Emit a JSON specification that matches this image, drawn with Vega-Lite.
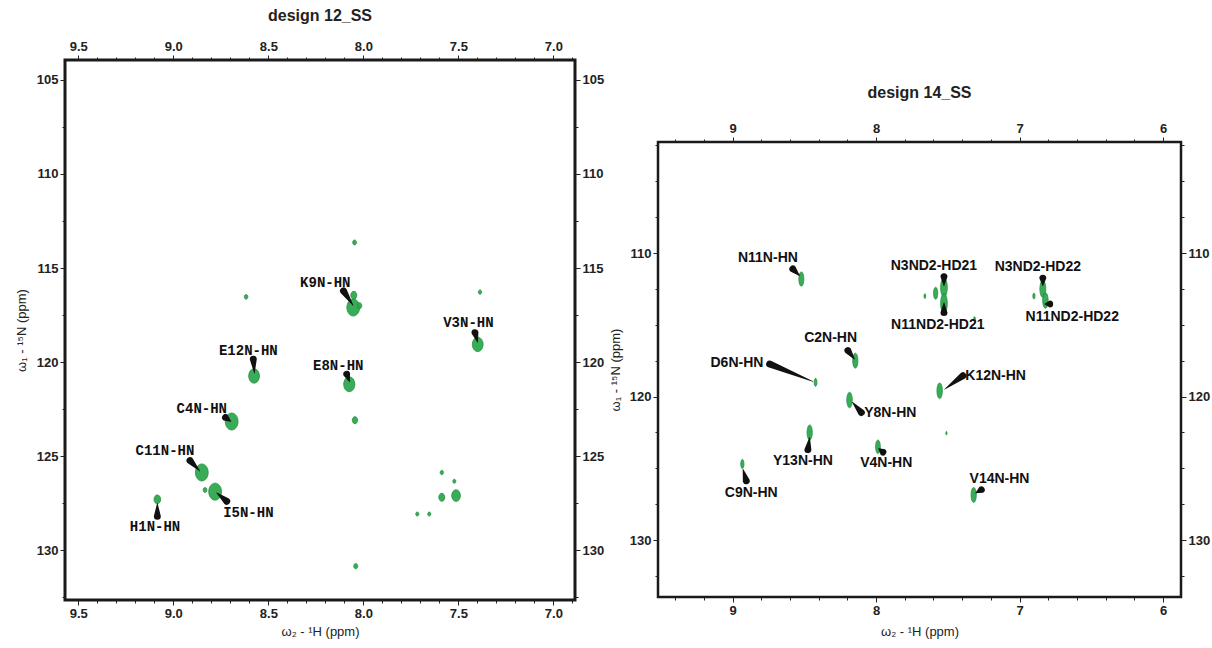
{
  "$schema": "https://vega.github.io/schema/vega-lite/v6.json",
  "background": "white",
  "padding": {"left": 13, "top": 6, "right": 5, "bottom": 0},
  "spacing": 2,
  "config": {
    "font": "Liberation Sans",
    "axis": {
      "labelFont": "Liberation Sans",
      "labelFontWeight": "bold",
      "labelFontSize": 13,
      "labelColor": "#222",
      "tickColor": "#222",
      "tickWidth": 1,
      "domain": false,
      "grid": false,
      "labelOverlap": false,
      "labelFlush": false,
      "labelPadding": 2,
      "titleFont": "Liberation Sans",
      "titleFontWeight": "normal",
      "titleFontSize": 13,
      "titleColor": "#222"
    },
    "title": {"font": "Liberation Sans", "fontWeight": "bold", "fontSize": 16, "color": "#222"}
  },
  "datasets": {
    "peaks12": [
      {"h": 8.053, "n": 117.1, "intensity": 1.0},
      {"h": 8.05, "n": 116.45, "intensity": 0.2},
      {"h": 8.02, "n": 117.0, "intensity": 0.1},
      {"h": 7.398, "n": 119.06, "intensity": 0.7},
      {"h": 8.575, "n": 120.74, "intensity": 0.7},
      {"h": 8.074, "n": 121.18, "intensity": 0.75},
      {"h": 8.693, "n": 123.16, "intensity": 1.0},
      {"h": 8.85, "n": 125.87, "intensity": 1.0},
      {"h": 8.78, "n": 126.89, "intensity": 1.0},
      {"h": 9.084, "n": 127.3, "intensity": 0.25},
      {"h": 8.617, "n": 116.53, "intensity": 0.05},
      {"h": 7.386, "n": 116.28, "intensity": 0.04},
      {"h": 8.044, "n": 123.09, "intensity": 0.15},
      {"h": 7.587, "n": 125.87, "intensity": 0.04},
      {"h": 7.521, "n": 126.34, "intensity": 0.03},
      {"h": 7.587, "n": 127.19, "intensity": 0.2},
      {"h": 7.512, "n": 127.1, "intensity": 0.45},
      {"h": 7.716, "n": 128.08, "intensity": 0.03},
      {"h": 7.653, "n": 128.08, "intensity": 0.03},
      {"h": 8.833, "n": 126.8, "intensity": 0.06},
      {"h": 8.046, "n": 113.64, "intensity": 0.06},
      {"h": 8.04, "n": 130.85, "intensity": 0.07}
    ],
    "labels12": [
      {"label": "K9N-HN", "h": 8.2, "n": 115.8},
      {"label": "V3N-HN", "h": 7.447, "n": 117.94},
      {"label": "E12N-HN", "h": 8.605, "n": 119.41},
      {"label": "E8N-HN", "h": 8.132, "n": 120.2},
      {"label": "C4N-HN", "h": 8.85, "n": 122.5},
      {"label": "C11N-HN", "h": 9.044, "n": 124.75},
      {"label": "I5N-HN", "h": 8.605, "n": 128.02},
      {"label": "H1N-HN", "h": 9.096, "n": 128.75}
    ],
    "pointers12": [
      {"label": "K9N-HN", "h": 8.104, "n": 116.22, "t": 0},
      {"label": "K9N-HN", "h": 8.053, "n": 117.0, "t": 1},
      {"label": "V3N-HN", "h": 7.412, "n": 118.44, "t": 0},
      {"label": "V3N-HN", "h": 7.398, "n": 118.95, "t": 1},
      {"label": "E12N-HN", "h": 8.579, "n": 119.85, "t": 0},
      {"label": "E12N-HN", "h": 8.573, "n": 120.6, "t": 1},
      {"label": "E8N-HN", "h": 8.087, "n": 120.65, "t": 0},
      {"label": "E8N-HN", "h": 8.072, "n": 121.05, "t": 1},
      {"label": "C4N-HN", "h": 8.725, "n": 122.95, "t": 0},
      {"label": "C4N-HN", "h": 8.696, "n": 123.16, "t": 1},
      {"label": "C11N-HN", "h": 8.912, "n": 125.24, "t": 0},
      {"label": "C11N-HN", "h": 8.86, "n": 125.8, "t": 1},
      {"label": "I5N-HN", "h": 8.719, "n": 127.4, "t": 0},
      {"label": "I5N-HN", "h": 8.772, "n": 126.95, "t": 1},
      {"label": "H1N-HN", "h": 9.084, "n": 128.2, "t": 0},
      {"label": "H1N-HN", "h": 9.084, "n": 127.5, "t": 1}
    ],
    "peaks14": [
      {"h": 8.521, "n": 111.81, "intensity": 0.5},
      {"h": 7.527, "n": 112.4, "intensity": 0.9},
      {"h": 7.527, "n": 113.5, "intensity": 0.9},
      {"h": 7.585, "n": 112.8, "intensity": 0.35},
      {"h": 7.66, "n": 113.0, "intensity": 0.05},
      {"h": 6.838, "n": 112.5, "intensity": 0.7},
      {"h": 6.82, "n": 113.3, "intensity": 0.6},
      {"h": 6.9, "n": 113.0, "intensity": 0.08},
      {"h": 8.145, "n": 117.5, "intensity": 0.55},
      {"h": 8.422, "n": 119.01, "intensity": 0.15},
      {"h": 7.557, "n": 119.6, "intensity": 0.6},
      {"h": 8.185, "n": 120.24, "intensity": 0.6},
      {"h": 8.463, "n": 122.5, "intensity": 0.55},
      {"h": 7.987, "n": 123.5, "intensity": 0.45},
      {"h": 8.932, "n": 124.7, "intensity": 0.2},
      {"h": 7.32, "n": 126.86, "intensity": 0.55},
      {"h": 7.51, "n": 122.55, "intensity": 0.02},
      {"h": 7.314, "n": 114.6, "intensity": 0.05}
    ],
    "labels14": [
      {"label": "N11N-HN", "h": 8.754, "n": 110.35},
      {"label": "N3ND2-HD21", "h": 7.597, "n": 110.93},
      {"label": "N11ND2-HD21", "h": 7.57, "n": 115.0},
      {"label": "N3ND2-HD22", "h": 6.873, "n": 111.0},
      {"label": "N11ND2-HD22", "h": 6.633, "n": 114.44},
      {"label": "C2N-HN", "h": 8.317, "n": 115.95},
      {"label": "D6N-HN", "h": 8.97, "n": 117.69},
      {"label": "K12N-HN", "h": 7.167, "n": 118.55},
      {"label": "Y8N-HN", "h": 7.901, "n": 121.17},
      {"label": "Y13N-HN", "h": 8.51, "n": 124.47},
      {"label": "V4N-HN", "h": 7.929, "n": 124.66},
      {"label": "C9N-HN", "h": 8.87, "n": 126.75},
      {"label": "V14N-HN", "h": 7.14, "n": 125.75}
    ],
    "pointers14": [
      {"label": "N11N-HN", "h": 8.58, "n": 111.11, "t": 0},
      {"label": "N11N-HN", "h": 8.533, "n": 111.58, "t": 1},
      {"label": "N3ND2-HD21", "h": 7.527, "n": 111.65, "t": 0},
      {"label": "N3ND2-HD21", "h": 7.527, "n": 112.3, "t": 1},
      {"label": "N11ND2-HD21", "h": 7.527, "n": 114.15, "t": 0},
      {"label": "N11ND2-HD21", "h": 7.527, "n": 113.45, "t": 1},
      {"label": "N3ND2-HD22", "h": 6.838, "n": 111.75, "t": 0},
      {"label": "N3ND2-HD22", "h": 6.838, "n": 112.3, "t": 1},
      {"label": "N11ND2-HD22", "h": 6.79, "n": 113.55, "t": 0},
      {"label": "N11ND2-HD22", "h": 6.826, "n": 113.55, "t": 1},
      {"label": "C2N-HN", "h": 8.196, "n": 116.8, "t": 0},
      {"label": "C2N-HN", "h": 8.15, "n": 117.4, "t": 1},
      {"label": "D6N-HN", "h": 8.742, "n": 117.74, "t": 0},
      {"label": "D6N-HN", "h": 8.44, "n": 118.95, "t": 1},
      {"label": "K12N-HN", "h": 7.395, "n": 118.55, "t": 0},
      {"label": "K12N-HN", "h": 7.523, "n": 119.5, "t": 1},
      {"label": "Y8N-HN", "h": 8.103, "n": 121.11, "t": 0},
      {"label": "Y8N-HN", "h": 8.165, "n": 120.4, "t": 1},
      {"label": "Y13N-HN", "h": 8.475, "n": 123.7, "t": 0},
      {"label": "Y13N-HN", "h": 8.463, "n": 122.84, "t": 1},
      {"label": "V4N-HN", "h": 7.953, "n": 123.86, "t": 0},
      {"label": "V4N-HN", "h": 7.983, "n": 123.62, "t": 1},
      {"label": "C9N-HN", "h": 8.905, "n": 125.87, "t": 0},
      {"label": "C9N-HN", "h": 8.928, "n": 125.06, "t": 1},
      {"label": "V14N-HN", "h": 7.267, "n": 126.5, "t": 0},
      {"label": "V14N-HN", "h": 7.307, "n": 126.73, "t": 1}
    ],
    "blank": [{"k": ""}]
  },
  "hconcat": [
    {
      "width": 510,
      "height": 540,
      "title": {"text": "design 12_SS", "offset": 16},
      "view": {"stroke": "#1a1a1a", "strokeWidth": 3},
      "resolve": {"axis": {"x": "independent", "y": "independent"}, "scale": {"size": "independent"}},
      "layer": [
        {
          "data": {"name": "peaks12"},
          "mark": {"type": "point", "shape": "M0,-1A0.75,1,0,1,1,0,1A0.75,1,0,1,1,0,-1Z", "filled": true, "color": "#2fa84f", "opacity": 0.95, "stroke": "#1c8a3a", "strokeWidth": 0.8},
          "encoding": {
            "x": {"field": "h", "type": "quantitative", "scale": {"domain": [6.886, 9.57], "reverse": true, "nice": false, "zero": false},
              "axis": {"orient": "bottom", "title": "ω₂ - ¹H  (ppm)", "titlePadding": 5,
                "values": [9.5, 9.4, 9.3, 9.2, 9.1, 9.0, 8.9, 8.8, 8.7, 8.6, 8.5, 8.4, 8.3, 8.2, 8.1, 8.0, 7.9, 7.8, 7.7, 7.6, 7.5, 7.4, 7.3, 7.2, 7.1, 7.0, 6.9],
                "labelExpr": "abs(datum.value*2 - round(datum.value*2)) < 0.01 ? format(datum.value, '.1f') : ''",
                "tickSize": {"condition": {"test": "abs(datum.value*2 - round(datum.value*2)) < 0.01", "value": 5}, "value": 3}}},
            "y": {"field": "n", "type": "quantitative", "scale": {"domain": [103.94, 132.65], "reverse": true, "nice": false, "zero": false},
              "axis": {"orient": "left", "title": "ω₁ - ¹⁵N (ppm)", "titlePadding": 8,
                "values": [105, 107.5, 110, 112.5, 115, 117.5, 120, 122.5, 125, 127.5, 130, 132.5],
                "labelExpr": "datum.value % 5 == 0 ? format(datum.value, 'd') : ''",
                "tickSize": {"condition": {"test": "datum.value % 5 == 0", "value": 5}, "value": 3}}},
            "size": {"field": "intensity", "type": "quantitative", "scale": {"domain": [0, 1], "range": [8, 290]}, "legend": null}
          }
        },
        {
          "data": {"name": "labels12"},
          "mark": {"type": "text", "font": "Liberation Mono", "fontWeight": "bold", "fontSize": 14, "color": "#111", "align": "center", "baseline": "middle"},
          "encoding": {
            "x": {"field": "h", "type": "quantitative", "scale": {"domain": [6.886, 9.57], "reverse": true, "nice": false, "zero": false},
              "axis": {"orient": "top", "title": null,
                "values": [9.5, 9.4, 9.3, 9.2, 9.1, 9.0, 8.9, 8.8, 8.7, 8.6, 8.5, 8.4, 8.3, 8.2, 8.1, 8.0, 7.9, 7.8, 7.7, 7.6, 7.5, 7.4, 7.3, 7.2, 7.1, 7.0, 6.9],
                "labelExpr": "abs(datum.value*2 - round(datum.value*2)) < 0.01 ? format(datum.value, '.1f') : ''",
                "tickSize": {"condition": {"test": "abs(datum.value*2 - round(datum.value*2)) < 0.01", "value": 5}, "value": 3}}},
            "y": {"field": "n", "type": "quantitative", "scale": {"domain": [103.94, 132.65], "reverse": true, "nice": false, "zero": false},
              "axis": {"orient": "right", "title": null,
                "values": [105, 107.5, 110, 112.5, 115, 117.5, 120, 122.5, 125, 127.5, 130, 132.5],
                "labelExpr": "datum.value % 5 == 0 ? format(datum.value, 'd') : ''",
                "tickSize": {"condition": {"test": "datum.value % 5 == 0", "value": 5}, "value": 3}}},
            "text": {"field": "label", "type": "nominal"}
          }
        },
        {
          "data": {"name": "pointers12"},
          "mark": {"type": "trail", "color": "#111"},
          "encoding": {
            "x": {"field": "h", "type": "quantitative", "scale": {"domain": [6.886, 9.57], "reverse": true, "nice": false, "zero": false}, "axis": null},
            "y": {"field": "n", "type": "quantitative", "scale": {"domain": [103.94, 132.65], "reverse": true, "nice": false, "zero": false}, "axis": null},
            "size": {"field": "t", "type": "quantitative", "scale": {"domain": [0, 1], "range": [7, 0.5]}, "legend": null},
            "detail": {"field": "label", "type": "nominal"},
            "order": {"field": "t", "type": "quantitative"}
          }
        }
      ]
    },
    {
      "spacing": 0,
      "vconcat": [
        {
          "width": 523,
          "height": 23,
          "view": {"stroke": null},
          "data": {"name": "blank"},
          "mark": {"type": "text"},
          "encoding": {"text": {"field": "k", "type": "nominal"}}
        },
        {
          "width": 523,
          "height": 455,
          "title": {"text": "design 14_SS", "offset": 21},
          "view": {"stroke": "#1a1a1a", "strokeWidth": 2.5},
          "resolve": {"axis": {"x": "independent", "y": "independent"}, "scale": {"size": "independent"}},
          "layer": [
            {
              "data": {"name": "peaks14"},
              "mark": {"type": "point", "shape": "M0,-1A0.35,1,0,1,1,0,1A0.35,1,0,1,1,0,-1Z", "filled": true, "color": "#2fa84f", "opacity": 0.95, "stroke": "#1c8a3a", "strokeWidth": 0.8},
              "encoding": {
                "x": {"field": "h", "type": "quantitative", "scale": {"domain": [5.875, 9.52], "reverse": true, "nice": false, "zero": false},
                  "axis": {"orient": "bottom", "title": "ω₂ - ¹H  (ppm)", "titlePadding": 8,
                    "values": [9.4, 9.2, 9.0, 8.8, 8.6, 8.4, 8.2, 8.0, 7.8, 7.6, 7.4, 7.2, 7.0, 6.8, 6.6, 6.4, 6.2, 6.0],
                    "labelExpr": "abs(datum.value - round(datum.value)) < 0.01 ? format(datum.value, 'd') : ''",
                    "tickSize": {"condition": {"test": "abs(datum.value - round(datum.value)) < 0.01", "value": 5}, "value": 3}}},
                "y": {"field": "n", "type": "quantitative", "scale": {"domain": [102.26, 133.97], "reverse": true, "nice": false, "zero": false},
                  "axis": {"orient": "left", "title": "ω₁ - ¹⁵N (ppm)", "titlePadding": 7,
                    "values": [102.5, 105, 107.5, 110, 112.5, 115, 117.5, 120, 122.5, 125, 127.5, 130, 132.5],
                    "labelExpr": "datum.value % 10 == 0 ? format(datum.value, 'd') : ''",
                    "tickSize": {"condition": {"test": "datum.value % 10 == 0", "value": 5}, "value": 3}}},
                "size": {"field": "intensity", "type": "quantitative", "scale": {"domain": [0, 1], "range": [4, 400]}, "legend": null}
              }
            },
            {
              "data": {"name": "labels14"},
              "mark": {"type": "text", "font": "Liberation Sans", "fontWeight": "bold", "fontSize": 14, "color": "#111", "align": "center", "baseline": "middle"},
              "encoding": {
                "x": {"field": "h", "type": "quantitative", "scale": {"domain": [5.875, 9.52], "reverse": true, "nice": false, "zero": false},
                  "axis": {"orient": "top", "title": null,
                    "values": [9.4, 9.2, 9.0, 8.8, 8.6, 8.4, 8.2, 8.0, 7.8, 7.6, 7.4, 7.2, 7.0, 6.8, 6.6, 6.4, 6.2, 6.0],
                    "labelExpr": "abs(datum.value - round(datum.value)) < 0.01 ? format(datum.value, 'd') : ''",
                    "tickSize": {"condition": {"test": "abs(datum.value - round(datum.value)) < 0.01", "value": 5}, "value": 3}}},
                "y": {"field": "n", "type": "quantitative", "scale": {"domain": [102.26, 133.97], "reverse": true, "nice": false, "zero": false},
                  "axis": {"orient": "right", "title": null,
                    "values": [102.5, 105, 107.5, 110, 112.5, 115, 117.5, 120, 122.5, 125, 127.5, 130, 132.5],
                    "labelExpr": "datum.value % 10 == 0 ? format(datum.value, 'd') : ''",
                    "tickSize": {"condition": {"test": "datum.value % 10 == 0", "value": 5}, "value": 3}}},
                "text": {"field": "label", "type": "nominal"}
              }
            },
            {
              "data": {"name": "pointers14"},
              "mark": {"type": "trail", "color": "#111"},
              "encoding": {
                "x": {"field": "h", "type": "quantitative", "scale": {"domain": [5.875, 9.52], "reverse": true, "nice": false, "zero": false}, "axis": null},
                "y": {"field": "n", "type": "quantitative", "scale": {"domain": [102.26, 133.97], "reverse": true, "nice": false, "zero": false}, "axis": null},
                "size": {"field": "t", "type": "quantitative", "scale": {"domain": [0, 1], "range": [7, 0.5]}, "legend": null},
                "detail": {"field": "label", "type": "nominal"},
                "order": {"field": "t", "type": "quantitative"}
              }
            }
          ]
        }
      ]
    }
  ]
}
